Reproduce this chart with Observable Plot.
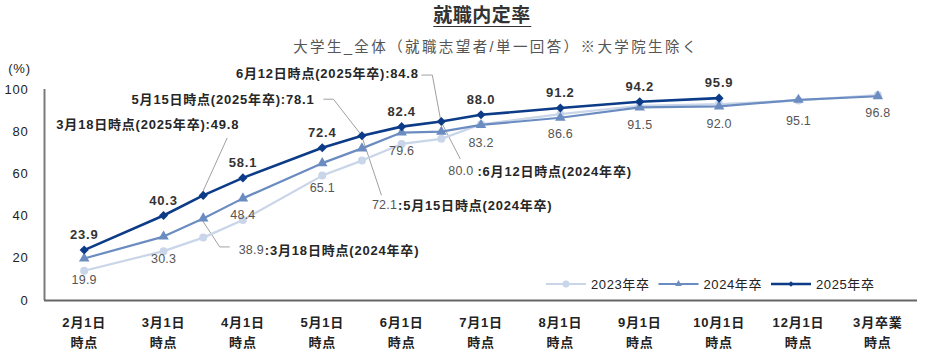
<!DOCTYPE html>
<html>
<head>
<meta charset="utf-8">
<script src="https://cdn.jsdelivr.net/npm/d3@7"></script>
<script src="https://cdn.jsdelivr.net/npm/@observablehq/plot@0.6"></script>
<style>
  body { margin: 0; background: #fff; font-family: "Liberation Sans", "Noto Sans CJK JP", sans-serif; }
  #header { position: relative; width: 926px; height: 62px; }
  #title { position: absolute; left: 482px; top: 5px; transform: translateX(-50%); white-space: nowrap;
           font-size: 19px; line-height: 21px; font-weight: bold; color: #333;
           border-bottom: 1.5px solid #333; padding-bottom: 0px; letter-spacing: 0.5px; }
  #subtitle { position: absolute; left: 496px; top: 38px; transform: translateX(-50%); white-space: nowrap;
              font-size: 14.5px; line-height: 18px; color: #555; letter-spacing: 2.4px; }
  #chart svg text { letter-spacing: 0.8px; }
  #chart g[aria-description="lab2024"] text { letter-spacing: 0.2px; }
</style>
</head>
<body>
<div id="header">
  <div id="title">就職内定率</div>
  <div id="subtitle">大学生_全体（就職志望者/単一回答）※大学院生除く</div>
</div>
<div id="chart"></div>
<script>
// ---------------- data ----------------
const categories = ["2月1日", "3月1日", "4月1日", "5月1日", "6月1日", "7月1日", "8月1日", "9月1日", "10月1日", "12月1日", "3月卒業"];
const surveyDates = ["2月1日", "3月1日", "3月18日", "4月1日", "5月1日", "5月15日", "6月1日", "6月12日", "7月1日", "8月1日", "9月1日", "10月1日", "12月1日", "3月卒業"];
const years = ["2023年卒", "2024年卒", "2025年卒"];
const values2023 = [14.1, 23.4, 29.8, 38.2, 59.2, 66.3, 74.2, 76.6, 83.5, 88.3, 92.3, 93.1, 94.8, 97.4];
const values2024 = [19.9, 30.3, 38.9, 48.4, 65.1, 72.1, 79.6, 80.0, 83.2, 86.6, 91.5, 92.0, 95.1, 96.8];
const values2025 = [23.9, 40.3, 49.8, 58.1, 72.4, 78.1, 82.4, 84.8, 88.0, 91.2, 94.2, 95.9, null, null];
const yTicks = [0, 20, 40, 60, 80, 100];
const noteDates = ["3月18日", "5月15日", "6月12日"];
const noteYears = ["2024年卒", "2025年卒"];

// ---------------- build table ----------------
const seriesValues = {"2023年卒": values2023, "2024年卒": values2024, "2025年卒": values2025};
let lastMain = 0;
const datePos = surveyDates.map(d => {
  const k = categories.indexOf(d);
  if (k >= 0) { lastMain = k; return k; }
  return lastMain + 0.5;   // intermediate survey date sits between two categories
});
const rows = [];
for (const yr of years) {
  seriesValues[yr].forEach((v, i) => {
    if (v != null) rows.push({year: yr, date: surveyDates[i], pos: datePos[i], value: v, main: categories.includes(surveyDates[i])});
  });
}
const ofYear = yr => rows.filter(r => r.year === yr);
const fmt = d3.format(".1f");

// ---------------- styles ----------------
const colors = {"2023年卒": "#c9d5e8", "2024年卒": "#6b8cc1", "2025年卒": "#0c3b87"};
const widths = {"2023年卒": 2.2, "2024年卒": 2.2, "2025年卒": 2.6};
const symbols = {"2023年卒": "circle", "2024年卒": "triangle", "2025年卒": "diamond2"};
const radii = {"2023年卒": 4, "2024年卒": 3.9, "2025年卒": 4.1};
const lab2024dy = {"2月1日": 21, "3月1日": 22, "4月1日": 17, "5月1日": 25, "6月1日": 18, "7月1日": 18, "8月1日": 16, "9月1日": 18, "10月1日": 18, "12月1日": 21, "3月卒業": 17};
const noteLayout = {
  "2025年卒|3月18日": {anchor: "end", dx: 36.5, dy: -71, leader: [[24.5, -57], [0, -3]]},
  "2025年卒|5月15日": {anchor: "end", dx: -47, dy: -36, leader: [[-38, -36], [-28, -36], [0, 0], [20, 60]]},
  "2025年卒|6月12日": {anchor: "end", dx: -22, dy: -48, leader: [[-19.5, -46], [-8.5, -46], [0, 0], [19.5, 38]]},
  "2024年卒|3月18日": {anchor: "start", dx: 36, dy: 32, leader: [[0, 3], [17, 29], [27, 29]]},
  "2024年卒|5月15日": {anchor: "start", dx: 10.5, dy: 57},
  "2024年卒|6月12日": {anchor: "start", dx: 7.5, dy: 40, gap: 4}
};
const FONT = '"Liberation Sans", "Noto Sans CJK JP", sans-serif';

const findRow = (yr, date) => rows.find(r => r.year === yr && r.date === date);

// leader lines (custom mark using Plot's scales)
function leaders(index, scales) {
  const g = d3.create("svg:g");
  for (const yr of noteYears) for (const date of noteDates) {
    const L = noteLayout[yr + "|" + date];
    if (!L || !L.leader) continue;
    const r = findRow(yr, date);
    const px = scales.x(r.pos), py = scales.y(r.value);
    g.append("path")
      .attr("d", d3.line()(L.leader.map(([dx, dy]) => [px + dx, py + dy])))
      .attr("fill", "none").attr("stroke", "#a0a0a0").attr("stroke-width", 1);
  }
  return g.node();
}

// annotation texts and legend (custom mark using Plot's scales)
function overlay(index, scales, values, dimensions) {
  const g = d3.create("svg:g").attr("font-family", FONT);
  for (const yr of noteYears) for (const date of noteDates) {
    const L = noteLayout[yr + "|" + date];
    const r = findRow(yr, date);
    const px = scales.x(r.pos), py = scales.y(r.value);
    const t = g.append("text").attr("x", px + L.dx).attr("y", py + L.dy)
      .attr("text-anchor", L.anchor).attr("dominant-baseline", "central")
      .style("letter-spacing", "0.8px");
    if (yr === "2025年卒") {
      t.append("tspan").attr("font-size", 13).attr("font-weight", "bold").attr("fill", "#262626")
        .text(`${date}時点(${yr}):${fmt(r.value)}`);
    } else {
      t.append("tspan").attr("font-size", 12.5).attr("fill", "#555").style("letter-spacing", "0.2px").text(fmt(r.value));
      t.append("tspan").attr("dx", L.gap || 1).attr("font-size", 13).attr("font-weight", "bold").attr("fill", "#262626")
        .text(`:${date}時点(${yr})`);
    }
  }
  // legend
  const ly = scales.y(0) - 16;
  let lx = dimensions.width - 380;
  for (const yr of years) {
    g.append("line").attr("x1", lx).attr("x2", lx + 40).attr("y1", ly).attr("y2", ly)
      .attr("stroke", colors[yr]).attr("stroke-width", widths[yr]);
    const sym = {circle: d3.symbolCircle, triangle: d3.symbolTriangle, diamond2: d3.symbolDiamond2}[symbols[yr]];
    const size = yr === "2023年卒" ? 36 : 20;
    g.append("path").attr("d", d3.symbol(sym, size)()).attr("transform", `translate(${lx + 20},${ly})`)
      .attr("fill", colors[yr]);
    g.append("text").attr("x", lx + 45).attr("y", ly).attr("dominant-baseline", "central")
      .attr("text-anchor", "start")
      .attr("font-size", 13).attr("fill", "#222").style("letter-spacing", "0.6px").text(yr);
    lx += 112.5;
  }
  return g.node();
}

const marks = [
  leaders,
  Plot.ruleX([-0.5], {y1: 0, y2: 100, stroke: "#7a7a7a", strokeWidth: 2}),
  Plot.ruleY([0], {stroke: "#666", strokeWidth: 2}),
  Plot.text(yTicks, {x: -0.5, y: d => d, text: d => String(d), dx: -16, textAnchor: "end", fontSize: 13, fill: "#222"}),
  Plot.text(["(%)"], {x: -0.5, y: 100, text: d => d, dx: -25, dy: -21, fontSize: 13, fill: "#222"}),
  Plot.text(categories, {x: (d, i) => i, y: 0, text: d => d + "\n時点", dy: 30, lineAnchor: "middle", lineHeight: 1.54,
    fontSize: 13, fontWeight: "bold", fill: "#222"})
];
for (const yr of years) {
  const data = ofYear(yr);
  marks.push(Plot.line(data, {x: "pos", y: "value", stroke: colors[yr], strokeWidth: widths[yr]}));
  marks.push(Plot.dot(data, {x: "pos", y: "value", symbol: symbols[yr], r: radii[yr], fill: colors[yr], stroke: "none"}));
}
// 2024 value labels below the points (offset per category)
for (const cat of categories) {
  const d = ofYear("2024年卒").filter(r => r.date === cat);
  marks.push(Plot.text(d, {x: "pos", y: "value", text: r => fmt(r.value),
    dy: lab2024dy[cat], fontSize: 12.5, fill: "#555", ariaDescription: "lab2024"}));
}
// 2025 value labels above the points
marks.push(Plot.text(ofYear("2025年卒").filter(d => d.main), {x: "pos", y: "value", text: d => fmt(d.value),
  dy: -15, fontSize: 13, fontWeight: "bold", fill: "#333"}));
marks.push(overlay);

const chart = Plot.plot({
  width: 926,
  height: 289,
  marginLeft: 44,
  marginRight: 9,
  marginTop: 27,
  marginBottom: 51,
  x: {type: "linear", domain: [-0.5, 10.5], axis: null},
  y: {domain: [0, 100], axis: null},
  style: {fontFamily: FONT, fontSize: "13px", background: "#fff", overflow: "visible"},
  marks
});
document.getElementById("chart").appendChild(chart);
</script>
</body>
</html>
